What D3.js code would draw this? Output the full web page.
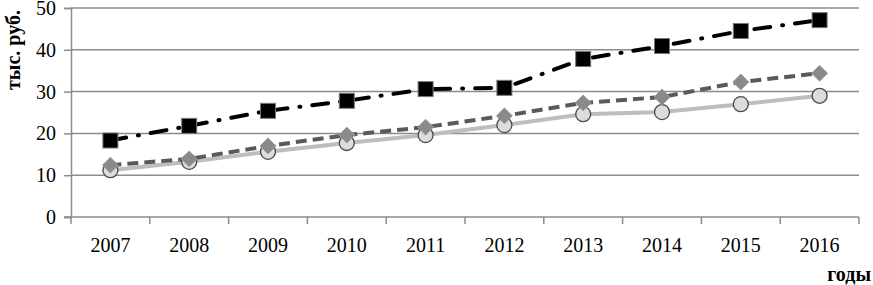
<!DOCTYPE html>
<html>
<head>
<meta charset="utf-8">
<script src="https://cdn.jsdelivr.net/npm/d3@7"></script>
<style>
  body { margin: 0; background: #fff; }
  text { font-family: "Liberation Serif", "Times New Roman", serif; }
</style>
</head>
<body>
<div id="chart"></div>
<script>
const years = ['2007', '2008', '2009', '2010', '2011', '2012', '2013', '2014', '2015', '2016'];
const seriesSquares = [18.3, 21.8, 25.4, 27.8, 30.6, 30.9, 37.8, 40.9, 44.5, 47.1];
const seriesDiamonds = [12.4, 13.9, 17.0, 19.6, 21.5, 24.2, 27.3, 28.7, 32.3, 34.4];
const seriesCircles = [11.2, 13.2, 15.6, 17.7, 19.6, 22.0, 24.6, 25.1, 27.0, 29.0];
const yTicks = [0, 10, 20, 30, 40, 50];

const width = 873, height = 285;
const margin = { top: 8, right: 14, bottom: 68, left: 71 };

const svg = d3.select('#chart').append('svg')
  .attr('width', width)
  .attr('height', height);

const x = d3.scaleBand()
  .domain(years)
  .range([margin.left, width - margin.right]);

const y = d3.scaleLinear()
  .domain([0, 50])
  .range([height - margin.bottom, margin.top]);

// gridlines
svg.append('g')
  .selectAll('line')
  .data(yTicks.slice(1))
  .join('line')
  .attr('x1', margin.left)
  .attr('x2', width - margin.right)
  .attr('y1', d => y(d))
  .attr('y2', d => y(d))
  .attr('stroke', '#8c8c8c')
  .attr('stroke-width', 1.5);

// y axis
const yAxis = svg.append('g')
  .attr('transform', `translate(${margin.left},0)`)
  .call(d3.axisLeft(y).tickValues(yTicks).tickSize(7).tickPadding(8));
yAxis.select('.domain').attr('stroke', '#8c8c8c').attr('stroke-width', 1.5);
yAxis.selectAll('.tick line').attr('stroke', '#8c8c8c').attr('stroke-width', 1.5);
yAxis.selectAll('.tick text')
  .attr('fill', '#000')
  .style('font-size', '20px');

// x axis, ticks sit on the band edges
const xAxisG = svg.append('g')
  .attr('transform', `translate(0,${y(0)})`);
xAxisG.append('line')
  .attr('x1', margin.left - 7)
  .attr('x2', width - margin.right)
  .attr('stroke', '#8c8c8c')
  .attr('stroke-width', 1.5);
const bounds = years.map(d => x(d)).concat([x(years[years.length - 1]) + x.bandwidth()]);
xAxisG.selectAll('.xtick')
  .data(bounds)
  .join('line')
  .attr('class', 'xtick')
  .attr('x1', d => d).attr('x2', d => d)
  .attr('y1', 0).attr('y2', 7)
  .attr('stroke', '#8c8c8c')
  .attr('stroke-width', 1.5);
xAxisG.selectAll('.xlabel')
  .data(years)
  .join('text')
  .attr('class', 'xlabel')
  .attr('x', d => x(d) + x.bandwidth() / 2)
  .attr('y', 35)
  .attr('text-anchor', 'middle')
  .style('font-size', '20px')
  .text(d => d);

// axis titles
svg.append('text')
  .attr('transform', `translate(20,${margin.top + 42}) rotate(-90)`)
  .attr('text-anchor', 'middle')
  .style('font-size', '20px')
  .style('font-weight', 'bold')
  .text('тыс. руб.');

svg.append('text')
  .attr('x', width - 2)
  .attr('y', 281)
  .attr('text-anchor', 'end')
  .style('font-size', '20px')
  .style('font-weight', 'bold')
  .text('годы');

const cx = i => x(years[i]) + x.bandwidth() / 2;
const line = d3.line().x((d, i) => cx(i)).y(d => y(d));

svg.append('path')
  .datum(seriesCircles)
  .attr('d', line)
  .attr('fill', 'none')
  .attr('stroke', '#bdbdbd')
  .attr('stroke-width', 4);

svg.append('path')
  .datum(seriesDiamonds)
  .attr('d', line)
  .attr('fill', 'none')
  .attr('stroke', '#5a5a5a')
  .attr('stroke-width', 4)
  .attr('stroke-dasharray', '11,6');

svg.append('path')
  .datum(seriesSquares)
  .attr('d', line)
  .attr('fill', 'none')
  .attr('stroke', '#000')
  .attr('stroke-width', 4)
  .attr('stroke-linecap', 'round')
  .attr('stroke-dasharray', '16,12,1,12');

svg.append('g')
  .selectAll('circle')
  .data(seriesCircles)
  .join('circle')
  .attr('cx', (d, i) => cx(i))
  .attr('cy', d => y(d))
  .attr('r', 7.5)
  .attr('fill', '#dcdcdc')
  .attr('stroke', '#4a4a4a')
  .attr('stroke-width', 1.3);

svg.append('g')
  .selectAll('path')
  .data(seriesDiamonds)
  .join('path')
  .attr('transform', (d, i) => `translate(${cx(i)},${y(d)})`)
  .attr('d', d3.symbol(d3.symbolDiamond2, 160))
  .attr('fill', '#8a8a8a')
  .attr('stroke', '#9a9a9a')
  .attr('stroke-width', 1);

svg.append('g')
  .selectAll('rect')
  .data(seriesSquares)
  .join('rect')
  .attr('x', (d, i) => cx(i) - 7.5)
  .attr('y', d => y(d) - 7.5)
  .attr('width', 15)
  .attr('height', 15)
  .attr('fill', '#000')
  .attr('stroke', '#777')
  .attr('stroke-width', 1);
</script>
</body>
</html>
